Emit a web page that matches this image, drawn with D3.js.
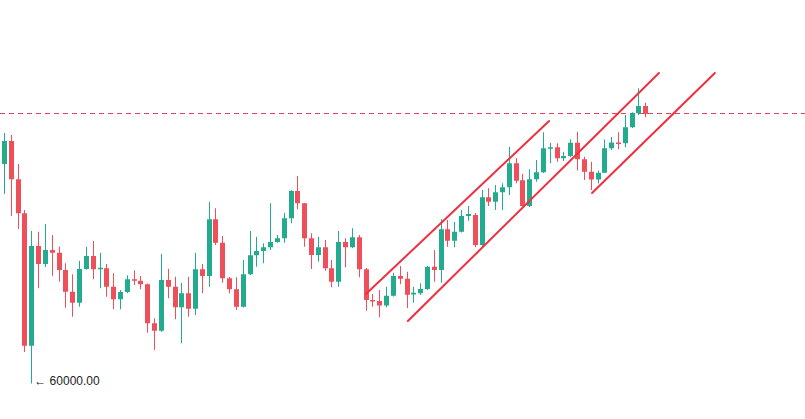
<!DOCTYPE html>
<html><head><meta charset="utf-8">
<script src="https://cdn.jsdelivr.net/npm/d3@7"></script>
<style>html,body{margin:0;padding:0;background:#fff;}svg{display:block;}</style>
</head><body>
<svg id="chart" width="805" height="419"></svg>
<script>
const opens  = [68780,69700,68170,66810,61510,65500,64780,65340,65230,64540,63670,63230,64580,65100,64570,64610,63870,63370,63660,64170,64110,63970,62410,62110,64140,63870,63050,63610,62990,64570,64300,66570,65630,64210,63770,63070,64370,65130,65300,65450,65660,65810,66610,67700,67210,65810,65140,65450,64610,64070,65660,65450,65850,64570,63340,63300,63120,63510,64300,64190,63560,63610,63780,64670,64540,66170,65710,66070,66700,66740,65540,67450,67270,67650,67850,68810,68130,67100,68170,68450,69410,69450,69010,69100,69630,68970,68470,68160,68430,69410,69640,69610,70250,70810,71100];
const highs  = [70020,69940,68780,66940,66100,66070,66380,65940,65470,64810,64370,64910,65470,65700,65230,64780,64410,63740,64330,64530,64300,64000,62610,65180,64590,64270,64030,64270,65230,64780,67270,67010,65900,64260,64250,64940,66100,65870,65610,67210,65940,66830,67740,68300,67220,66010,65870,65740,64940,66100,65810,66210,65940,64620,63580,63740,63870,64430,64700,64470,63870,64010,64700,65340,66570,66540,66460,66940,67100,66820,67740,67810,67940,68010,69470,69010,68380,68570,68940,70050,69630,69610,69270,69770,70070,69070,68870,68520,69760,69860,70050,70740,70850,71810,71230];
const lows   = [67580,66710,66180,61260,60000,63810,64660,64310,64070,63030,62670,63070,64560,64170,63810,63470,62970,62970,63610,63940,63770,62030,61340,62070,63410,62570,61610,62670,62740,63610,63870,65540,64030,63610,62940,63040,64340,64670,64810,65340,65630,65630,66410,66970,65470,64580,64870,64510,63850,63870,64650,65420,64250,62910,63070,62650,63050,63480,63970,63010,63230,63540,63740,64070,64030,65470,65450,66040,66510,65450,65500,67100,66940,66940,67540,68010,67080,67060,68070,68420,68810,68870,68900,69050,68520,68140,67740,68000,68420,69340,69370,69450,70220,70740,70650];
const closes = [69700,68170,66810,61510,65500,64780,65340,65230,64540,63670,63230,64580,65100,64570,64630,63870,63370,63660,64170,64110,63970,62410,62110,64140,63870,63050,63610,62990,64570,64300,66570,65630,64210,63770,63070,64370,65130,65300,65450,65660,65810,66610,67700,67210,65810,65140,65450,64610,64070,65660,65450,65850,64570,63340,63300,63120,63510,64300,64190,63550,63630,63780,64670,64540,66170,65710,66070,66700,66780,65540,67450,67270,67650,67850,68810,68110,67100,68170,68450,69410,69450,69010,69100,69630,68970,68470,68160,68430,69410,69640,69610,70250,70810,71100,70780];

// current price line
const lastPrice = 70800;
// marked low
const lowLabelIndex = 4;
const lowLabelText = "\u2190 60000.00";
// trend lines: [startIndex, startPrice, endIndex, endPrice]
const trendStartIdx = [53.05, 59.2, 86.2];
const trendStartPx  = [63580, 62500, 67620];
const trendEndIdx   = [79.9, 96.0, 104.2];
const trendEndPx    = [70500, 72420, 72420];

const candles = opens.map((o,i)=>({i, o, h:highs[i], l:lows[i], c:closes[i]}));

const svg = d3.select("#chart");
const x = d3.scaleLinear().domain([0, opens.length-1]).range([4, 645.3]);
// 40 price units per pixel
const y = d3.scaleLinear().domain([60000, 70000]).range([383.5, 383.5 - 10000/40]);

const upC = "#22ab8e", downC = "#ee4f5b";

// dashed price line
svg.append("line")
  .attr("x1", 0).attr("x2", 805)
  .attr("y1", Math.round(y(lastPrice))+0.5).attr("y2", Math.round(y(lastPrice))+0.5)
  .attr("stroke", "#e8405a").attr("stroke-width", 1)
  .attr("stroke-dasharray", "5,4");

const g = svg.append("g");
g.selectAll("line.wick").data(candles).join("line")
  .attr("class","wick")
  .attr("x1", d=>Math.round(x(d.i))+0.5).attr("x2", d=>Math.round(x(d.i))+0.5)
  .attr("y1", d=>y(d.h)).attr("y2", d=>y(d.l))
  .attr("stroke", d=>d.c>=d.o?upC:downC).attr("stroke-width",1);

g.selectAll("rect.body").data(candles).join("rect")
  .attr("class","body")
  .attr("x", d=>Math.round(x(d.i))-2)
  .attr("width", 5)
  .attr("y", d=>y(Math.max(d.o,d.c)))
  .attr("height", d=>Math.max(1.5, Math.abs(y(d.o)-y(d.c))))
  .attr("fill", d=>d.c>=d.o?upC:downC);

// trend lines
const tl = trendStartIdx.map((s,k)=>({x1:s, y1:trendStartPx[k], x2:trendEndIdx[k], y2:trendEndPx[k]}));
svg.selectAll("line.trend").data(tl).join("line")
  .attr("class","trend")
  .attr("x1", d=>x(d.x1)).attr("y1", d=>y(d.y1))
  .attr("x2", d=>x(d.x2)).attr("y2", d=>y(d.y2))
  .attr("stroke", "#f0303e").attr("stroke-width", 2).attr("stroke-linecap","round");

// low label
const lc = candles[lowLabelIndex];
svg.append("text")
  .attr("x", x(lc.i)+3).attr("y", y(lc.l)-1.5)
  .attr("dominant-baseline","middle")
  .attr("font-family","Liberation Sans, Arial, sans-serif")
  .attr("font-size", 12).attr("fill", "#222")
  .text(lowLabelText);
</script>
</body></html>
